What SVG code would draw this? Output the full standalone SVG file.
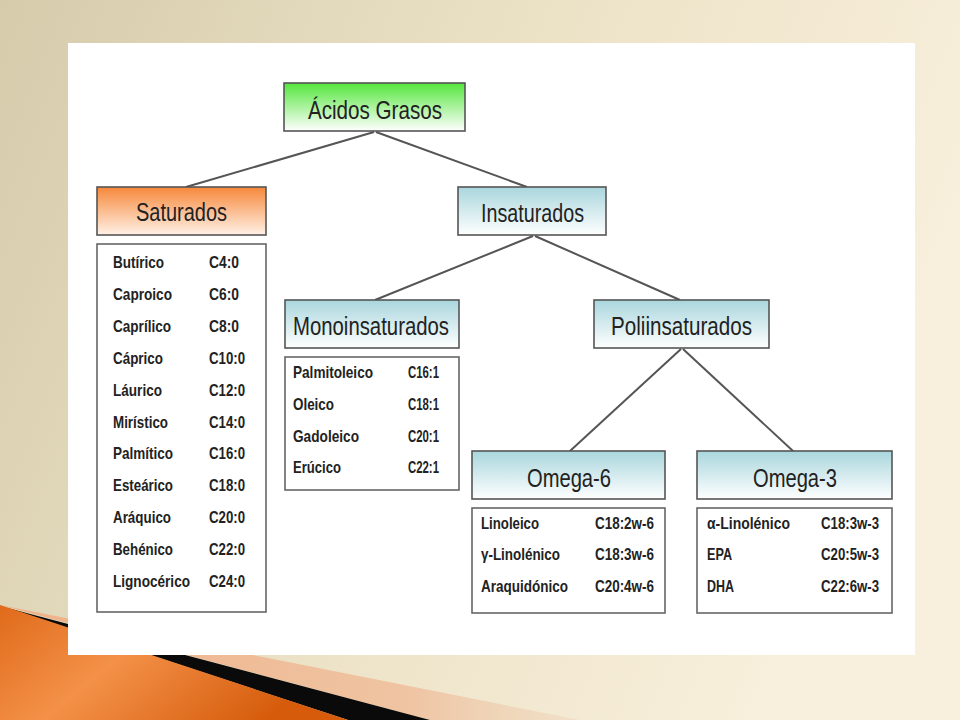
<svg xmlns="http://www.w3.org/2000/svg" width="960" height="720" viewBox="0 0 960 720">
  <defs>
    <linearGradient id="bg" x1="0" y1="0" x2="1" y2="0.3">
      <stop offset="0" stop-color="#d6ccac"/>
      <stop offset="0.6" stop-color="#eee4c9"/>
      <stop offset="1" stop-color="#f8efdc"/>
    </linearGradient>
    <linearGradient id="gGreen" x1="0" y1="0" x2="0" y2="1">
      <stop offset="0" stop-color="#55e63c"/>
      <stop offset="1" stop-color="#ffffff"/>
    </linearGradient>
    <linearGradient id="gOrange" x1="0" y1="0" x2="0" y2="1">
      <stop offset="0" stop-color="#f6883a"/>
      <stop offset="1" stop-color="#fff1e6"/>
    </linearGradient>
    <linearGradient id="gBlue" x1="0" y1="0" x2="0" y2="1">
      <stop offset="0" stop-color="#a9d6dd"/>
      <stop offset="1" stop-color="#ffffff"/>
    </linearGradient>
    <linearGradient id="gWedge" x1="0" y1="0" x2="1" y2="0.4">
      <stop offset="0" stop-color="#e06a1a"/>
      <stop offset="0.45" stop-color="#f39148"/>
      <stop offset="1" stop-color="#d65c0c"/>
    </linearGradient>
    <linearGradient id="gPeach" x1="0" y1="0" x2="1" y2="0">
      <stop offset="0" stop-color="#f0b088"/>
      <stop offset="0.7" stop-color="#efc4a2"/>
      <stop offset="1" stop-color="#eed6bc" stop-opacity="0.5"/>
    </linearGradient>
  </defs>
  <style>
    .box { stroke: #555555; stroke-width: 1.6; }
    .list { fill: #ffffff; stroke: #666666; stroke-width: 1.6; }
    .hdr { font-family: "Liberation Sans", Arial, sans-serif; font-size: 26px; fill: #222222; }
    .itm { font-family: "Liberation Sans", Arial, sans-serif; font-size: 16.5px; font-weight: bold; fill: #222222; }
    .con { stroke: #555555; stroke-width: 2; fill: none; }
  </style>

  <!-- background -->
  <rect x="0" y="0" width="960" height="720" fill="url(#bg)"/>
  <polygon points="0,605 580,720 430,720" fill="url(#gPeach)"/>
  <polygon points="0,606 430,720 348,720" fill="#0a0a0a"/>
  <polygon points="0,605 348,720 0,720" fill="url(#gWedge)"/>

  <!-- white panel -->
  <rect x="68" y="43" width="847" height="612" fill="#ffffff"/>

  <!-- connectors -->
  <g id="connectors">
    <line class="con" x1="374" y1="132" x2="186" y2="187"/>
    <line class="con" x1="376" y1="132" x2="527" y2="187"/>
    <line class="con" x1="533" y1="236" x2="375" y2="300"/>
    <line class="con" x1="535" y1="236" x2="680" y2="300"/>
    <line class="con" x1="681" y1="349" x2="570" y2="451"/>
    <line class="con" x1="683" y1="349" x2="793" y2="451"/>
  </g>

  <g id="acidos-grasos">
    <rect class="box" x="284" y="83" width="181" height="48" fill="url(#gGreen)"/>
    <text class="hdr" x="308" y="119" textLength="134" lengthAdjust="spacingAndGlyphs">Ácidos Grasos</text>
  </g>

  <g id="saturados">
    <rect class="box" x="97" y="187" width="169" height="48" fill="url(#gOrange)"/>
    <text class="hdr" x="136" y="221" textLength="91" lengthAdjust="spacingAndGlyphs">Saturados</text>
  </g>

  <g id="saturados-lista">
    <rect class="list" x="97" y="244" width="169" height="368"/>
    <text class="itm" x="113" y="268" textLength="51" lengthAdjust="spacingAndGlyphs">Butírico</text>
    <text class="itm" x="209" y="268" textLength="30" lengthAdjust="spacingAndGlyphs">C4:0</text>
    <text class="itm" x="113" y="300" textLength="59" lengthAdjust="spacingAndGlyphs">Caproico</text>
    <text class="itm" x="209" y="300" textLength="30" lengthAdjust="spacingAndGlyphs">C6:0</text>
    <text class="itm" x="113" y="332" textLength="58" lengthAdjust="spacingAndGlyphs">Caprílico</text>
    <text class="itm" x="209" y="332" textLength="30" lengthAdjust="spacingAndGlyphs">C8:0</text>
    <text class="itm" x="113" y="364" textLength="50" lengthAdjust="spacingAndGlyphs">Cáprico</text>
    <text class="itm" x="209" y="364" textLength="36" lengthAdjust="spacingAndGlyphs">C10:0</text>
    <text class="itm" x="113" y="396" textLength="49" lengthAdjust="spacingAndGlyphs">Láurico</text>
    <text class="itm" x="209" y="396" textLength="36" lengthAdjust="spacingAndGlyphs">C12:0</text>
    <text class="itm" x="113" y="428" textLength="55" lengthAdjust="spacingAndGlyphs">Mirístico</text>
    <text class="itm" x="209" y="428" textLength="36" lengthAdjust="spacingAndGlyphs">C14:0</text>
    <text class="itm" x="113" y="459" textLength="60" lengthAdjust="spacingAndGlyphs">Palmítico</text>
    <text class="itm" x="209" y="459" textLength="36" lengthAdjust="spacingAndGlyphs">C16:0</text>
    <text class="itm" x="113" y="491" textLength="60" lengthAdjust="spacingAndGlyphs">Esteárico</text>
    <text class="itm" x="209" y="491" textLength="36" lengthAdjust="spacingAndGlyphs">C18:0</text>
    <text class="itm" x="113" y="523" textLength="58" lengthAdjust="spacingAndGlyphs">Aráquico</text>
    <text class="itm" x="209" y="523" textLength="36" lengthAdjust="spacingAndGlyphs">C20:0</text>
    <text class="itm" x="113" y="555" textLength="60" lengthAdjust="spacingAndGlyphs">Behénico</text>
    <text class="itm" x="209" y="555" textLength="36" lengthAdjust="spacingAndGlyphs">C22:0</text>
    <text class="itm" x="113" y="587" textLength="77" lengthAdjust="spacingAndGlyphs">Lignocérico</text>
    <text class="itm" x="209" y="587" textLength="36" lengthAdjust="spacingAndGlyphs">C24:0</text>
  </g>

  <g id="insaturados">
    <rect class="box" x="458" y="187" width="148" height="48" fill="url(#gBlue)"/>
    <text class="hdr" x="481" y="222" textLength="103" lengthAdjust="spacingAndGlyphs">Insaturados</text>
  </g>

  <g id="monoinsaturados">
    <rect class="box" x="285" y="300" width="174" height="48" fill="url(#gBlue)"/>
    <text class="hdr" x="293" y="335" textLength="156" lengthAdjust="spacingAndGlyphs">Monoinsaturados</text>
  </g>

  <g id="monoinsaturados-lista">
    <rect class="list" x="285" y="357" width="174" height="133"/>
    <text class="itm" x="293" y="378" textLength="80" lengthAdjust="spacingAndGlyphs">Palmitoleico</text>
    <text class="itm" x="408" y="378" textLength="31" lengthAdjust="spacingAndGlyphs">C16:1</text>
    <text class="itm" x="293" y="410" textLength="41" lengthAdjust="spacingAndGlyphs">Oleico</text>
    <text class="itm" x="408" y="410" textLength="31" lengthAdjust="spacingAndGlyphs">C18:1</text>
    <text class="itm" x="293" y="442" textLength="66" lengthAdjust="spacingAndGlyphs">Gadoleico</text>
    <text class="itm" x="408" y="442" textLength="31" lengthAdjust="spacingAndGlyphs">C20:1</text>
    <text class="itm" x="293" y="473" textLength="48" lengthAdjust="spacingAndGlyphs">Erúcico</text>
    <text class="itm" x="408" y="473" textLength="31" lengthAdjust="spacingAndGlyphs">C22:1</text>
  </g>

  <g id="poliinsaturados">
    <rect class="box" x="594" y="300" width="175" height="48" fill="url(#gBlue)"/>
    <text class="hdr" x="611" y="335" textLength="141" lengthAdjust="spacingAndGlyphs">Poliinsaturados</text>
  </g>

  <g id="omega-6">
    <rect class="box" x="472" y="451" width="193" height="48" fill="url(#gBlue)"/>
    <text class="hdr" x="527" y="487" textLength="84" lengthAdjust="spacingAndGlyphs">Omega-6</text>
  </g>

  <g id="omega-6-lista">
    <rect class="list" x="472" y="508" width="193" height="105"/>
    <text class="itm" x="481" y="529" textLength="58" lengthAdjust="spacingAndGlyphs">Linoleico</text>
    <text class="itm" x="595" y="529" textLength="59" lengthAdjust="spacingAndGlyphs">C18:2w-6</text>
    <text class="itm" x="481" y="560" textLength="79" lengthAdjust="spacingAndGlyphs">γ-Linolénico</text>
    <text class="itm" x="595" y="560" textLength="59" lengthAdjust="spacingAndGlyphs">C18:3w-6</text>
    <text class="itm" x="481" y="592" textLength="87" lengthAdjust="spacingAndGlyphs">Araquidónico</text>
    <text class="itm" x="595" y="592" textLength="59" lengthAdjust="spacingAndGlyphs">C20:4w-6</text>
  </g>

  <g id="omega-3">
    <rect class="box" x="697" y="451" width="195" height="48" fill="url(#gBlue)"/>
    <text class="hdr" x="753" y="487" textLength="84" lengthAdjust="spacingAndGlyphs">Omega-3</text>
  </g>

  <g id="omega-3-lista">
    <rect class="list" x="697" y="508" width="195" height="105"/>
    <text class="itm" x="707" y="529" textLength="83" lengthAdjust="spacingAndGlyphs">α-Linolénico</text>
    <text class="itm" x="821" y="529" textLength="58" lengthAdjust="spacingAndGlyphs">C18:3w-3</text>
    <text class="itm" x="707" y="560" textLength="25" lengthAdjust="spacingAndGlyphs">EPA</text>
    <text class="itm" x="821" y="560" textLength="58" lengthAdjust="spacingAndGlyphs">C20:5w-3</text>
    <text class="itm" x="707" y="592" textLength="27" lengthAdjust="spacingAndGlyphs">DHA</text>
    <text class="itm" x="821" y="592" textLength="58" lengthAdjust="spacingAndGlyphs">C22:6w-3</text>
  </g>
</svg>
